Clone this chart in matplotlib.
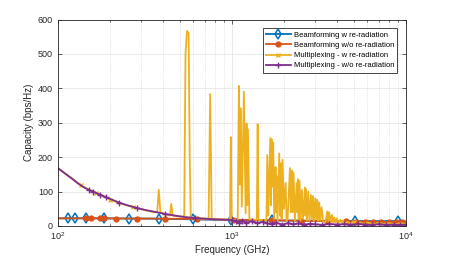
import matplotlib
matplotlib.use('Agg')
import matplotlib.pyplot as plt

plt.rcParams['font.family'] = ['Liberation Sans', 'DejaVu Sans']

# Beamforming w re-radiation (blue, diamonds)
bfw_freq = [100, 115, 125, 145, 185, 255, 380, 597, 985, 1690, 5115, 8960, 10000]
bfw_cap = [22, 22, 22, 22, 22, 21.5, 21, 19, 17, 16, 14, 14, 13]
bfw_marks = [1, 2, 3, 4, 5, 6, 7, 8, 9, 10, 11]

# Beamforming w/o re-radiation (orange, dots)
bfo_freq = [100, 145, 154, 174, 185, 215, 285, 410, 627, 1020, 1700, 2500, 3500,
            4500, 5200, 5800, 6500, 7200, 8000, 8800, 9500, 10000]
bfo_cap = [22, 22, 22, 22, 22, 21.5, 21.5, 21, 20, 18, 16, 15, 14,
           13, 12.5, 12, 12, 11.5, 11, 11, 10.5, 10.5]
bfo_marks = list(range(1, 21))

# Multiplexing - w re-radiation (yellow, x)
mpw_freq = [100, 120, 135, 150, 165, 185, 200, 230, 270, 320, 355, 372, 380, 388,
            420, 440, 448, 456, 500, 520, 532, 541, 552, 564, 572, 580, 640, 720, 735,
            750, 765, 820, 900, 975, 986, 997, 1050, 1080, 1097, 1110, 1121, 1140,
            1172, 1199, 1214, 1225, 1236, 1260, 1350, 1390, 1406, 1420, 1500, 1580,
            1597, 1620, 1661, 1675, 1690, 1705, 1727, 1750, 1782, 1795, 1807, 1830,
            1871, 1890, 1914, 1930, 1955, 1990, 2037, 2060, 2090, 2155, 2180, 2213,
            2230, 2260, 2300, 2355, 2375, 2394, 2420, 2447, 2480, 2523, 2560, 2630,
            2645, 2663, 2700, 2746, 2790, 2846, 2880, 2923, 2960, 3014, 3050, 3094,
            3130, 3177, 3220, 3277, 3350, 3450, 3532, 3580, 3625, 3690, 3757, 3810,
            3873, 3930, 3999, 4100, 4200, 4300, 4350, 4450, 4600, 4800, 5000, 5200,
            5400, 5700, 6000, 6500, 7000, 7500, 8000, 8700, 9300, 10000]
mpw_cap = [168, 139, 119, 106, 96, 84, 76, 65, 55, 45, 40, 40, 105, 40,
           33, 30, 64, 30, 27, 27, 30, 500, 567, 560, 200, 25, 22, 21, 22,
           383, 21, 19, 18, 18, 258, 17, 18, 20, 407, 120, 342, 56,
           390, 37, 298, 60, 281, 20, 18, 18, 296, 18, 17, 17,
           206, 30, 255, 60, 252, 114, 242, 20, 171, 40, 145, 15,
           211, 30, 182, 20, 192, 50, 125, 15, 20, 168, 40, 161,
           40, 155, 15, 124, 40, 136, 20, 131, 15, 105, 20, 112,
           30, 107, 15, 100, 15, 90, 20, 87, 15, 80, 20, 76,
           15, 68, 15, 54, 12, 10, 42, 12, 40, 10, 32, 10,
           25, 10, 22, 8, 18, 8, 16, 6, 12, 8, 11, 2,
           10, 6, 10, 5, 9, 6, 8, 5, 8, 6]
mpw_marks = [2, 4, 6, 8, 124]

# Multiplexing - w/o re-radiation (purple, +)
mpo_freq = [100, 110, 120, 130, 140, 150, 160, 175, 190, 205, 225, 250, 285, 320,
            360, 410, 470, 530, 615, 700, 800, 900, 1000, 1050, 1100, 1150, 1200,
            1300, 1400, 1500, 1600, 1700, 1800, 1950, 2100, 2250, 2400, 2600, 2800,
            3000, 3300, 3600, 4000, 4400, 4800, 5300, 5800, 6400, 7000, 7700, 8500,
            9300, 10000]
mpo_cap = [168, 152, 138, 124, 113, 105, 99, 91, 83, 76, 68, 60, 52, 46,
           41, 35, 30, 26, 23, 21, 19, 18, 17, 14, 9, 15, 9, 13, 8, 12, 7, 5, 9,
           4, 8, 5, 7, 4, 6, 5, 3, 6, 4, 5, 3, 6, 4, 3, 5, 3, 4, 3, 4]
mpo_marks = [5, 6, 7, 8, 10, 12, 15, 18] + list(range(22, 53))

fig = plt.figure(figsize=(4.49, 2.57), dpi=100)
ax = fig.add_axes([0.129, 0.121, 0.775, 0.803])

ax.plot(bfw_freq, bfw_cap, color='#0072BD', lw=1.3, marker='d', ms=5,
        mfc='none', mew=1.1, markevery=bfw_marks, label='Beamforming w re-radiation')
ax.plot(bfo_freq, bfo_cap, color='#D95319', lw=1.3, marker='o', ms=3.5,
        markevery=bfo_marks, label='Beamforming w/o re-radiation')
ax.plot(mpw_freq, mpw_cap, color='#EDB120', lw=1.3, marker='x', ms=3.5,
        markevery=mpw_marks, label='Multiplexing - w re-radiation')
ax.plot(mpo_freq, mpo_cap, color='#7E2F8E', lw=1.3, marker='+', ms=4.5,
        markevery=mpo_marks, label='Multiplexing - w/o re-radiation')

ax.set_xscale('log')
ax.set_xlim(100, 10000)
ax.set_ylim(0, 600)
ax.set_yticks([0, 100, 200, 300, 400, 500, 600])

ax.grid(True, which='major', color='#e6e6e6', lw=0.6)
ax.grid(True, which='minor', axis='x', color='#d8d8d8', lw=0.6, ls=':')
ax.set_axisbelow(True)

ax.tick_params(which='both', direction='in', top=True, right=True,
               labelsize=6.5, colors='#262626', width=0.5)
ax.tick_params(which='major', length=3)
ax.tick_params(which='minor', length=1.5)
for s in ax.spines.values():
    s.set_color('#262626')
    s.set_linewidth(0.6)

ax.set_xlabel('Frequency (GHz)', fontsize=7, color='#262626', labelpad=2)
ax.set_ylabel('Capacity (bps/Hz)', fontsize=7, color='#262626', labelpad=3)

leg = ax.legend(loc='upper right', fontsize=5.5, fancybox=False, framealpha=1,
                edgecolor='#262626', borderpad=0.4, labelspacing=0.38,
                handlelength=3.2, handletextpad=0.4, borderaxespad=1.15)
leg.get_frame().set_linewidth(0.6)

fig.savefig('out.png', dpi=100)
